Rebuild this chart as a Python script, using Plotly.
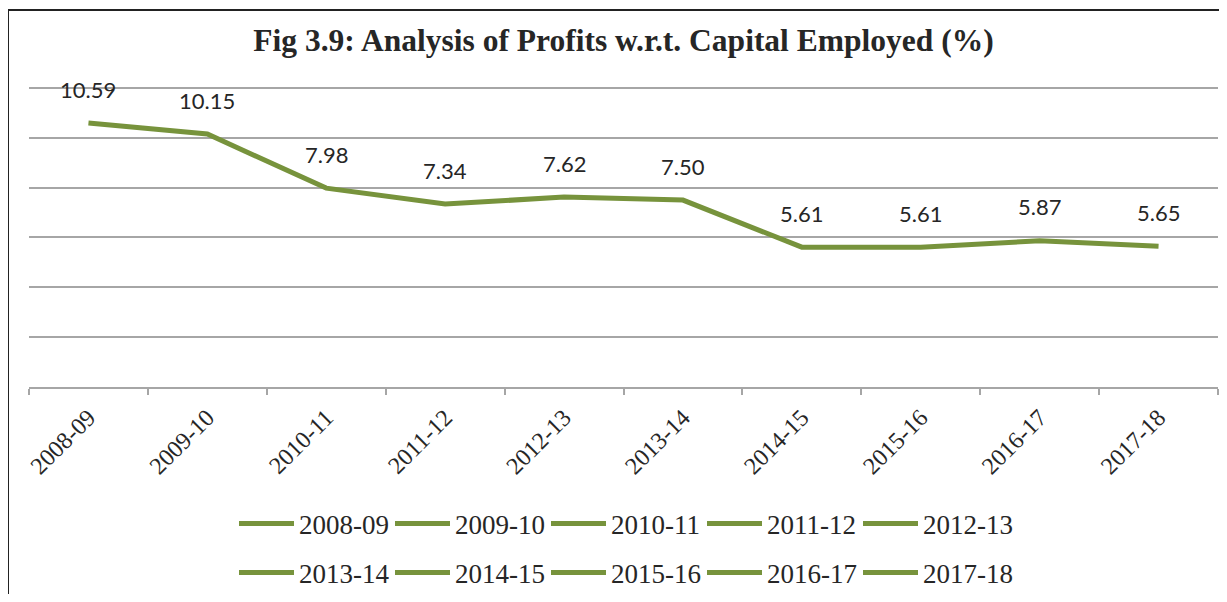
import plotly.graph_objects as go

# ---- data ----
categories = ["2008-09", "2009-10", "2010-11", "2011-12", "2012-13",
              "2013-14", "2014-15", "2015-16", "2016-17", "2017-18"]
values = [10.59, 10.15, 7.98, 7.34, 7.62, 7.50, 5.61, 5.61, 5.87, 5.65]
y_gridlines = [0, 2, 4, 6, 8, 10, 12]
title_text = "Fig 3.9: Analysis of Profits w.r.t. Capital Employed (%)"

GREEN = "#77933C"
GRID = "#A6A6A6"
TEXT = "#262626"
SERIF = "Liberation Serif"

# page body has an 8px margin, so the figure is drawn from (8, 8)
W, H = 1211, 586
Y_MAX = 13.0
L, R, T, B = 21, 1, 55, 207
PW, PH = W - L - R, H - T - B

fig = go.Figure()

fig.add_trace(go.Scatter(
    x=categories, y=values, mode="lines",
    line=dict(color=GREEN, width=5),
    showlegend=False, hoverinfo="skip",
))

for i, c in enumerate(categories):
    fig.add_trace(go.Scatter(
        x=[None], y=[None], mode="lines", name=c,
        line=dict(color=GREEN, width=5),
        legend="legend" if i < 5 else "legend2",
    ))

for c, v in zip(categories, values):
    fig.add_annotation(
        x=c, y=v, text=f"{v:.2f}", showarrow=False,
        yshift=34, font=dict(family="Lato", size=22, color=TEXT),
    )

legend_common = dict(
    orientation="h", xanchor="left", yanchor="middle",
    xref="container", yref="container",
    font=dict(family=SERIF, size=27, color=TEXT),
    entrywidth=86, entrywidthmode="pixels",
    bgcolor="rgba(0,0,0,0)", itemwidth=55,
)

fig.update_layout(
    width=W, height=H,
    margin=dict(l=L, r=R, t=T, b=B, autoexpand=False),
    paper_bgcolor="white", plot_bgcolor="rgba(0,0,0,0)",
    title=dict(
        text=f"<b>{title_text}</b>",
        x=0.5, xref="paper", xanchor="center",
        y=1 - 32 / H, yref="container", yanchor="middle",
        font=dict(family=SERIF, size=31.5, color=TEXT),
    ),
    xaxis=dict(
        type="category", range=[-0.5, 9.5],
        showline=True, linecolor=GRID, linewidth=2,
        ticks="outside", tickson="boundaries", ticklen=6,
        tickcolor=GRID, tickwidth=2,
        tickangle=-45, tickfont=dict(family=SERIF, size=24, color=TEXT),
        ticklabelstandoff=5,
        showgrid=False, zeroline=False,
    ),
    yaxis=dict(
        range=[0, Y_MAX], tickmode="array", tickvals=y_gridlines,
        showgrid=True, gridcolor=GRID, gridwidth=2,
        showticklabels=False, zeroline=False, ticks="",
    ),
    legend=dict(x=(234 - 8) / W, y=1 - (524 - 8) / H, **legend_common),
    legend2=dict(x=(234 - 8) / W, y=1 - (573 - 8) / H, **legend_common),
)

# chart frame (top and left edges)
fig.add_shape(type="line", xref="paper", yref="paper",
              x0=-L / PW, x1=1 + 20 / PW, y0=1 + (T - 2) / PH, y1=1 + (T - 2) / PH,
              line=dict(color="#222222", width=2))
fig.add_shape(type="line", xref="paper", yref="paper",
              x0=-L / PW, x1=-L / PW, y0=1 + (T - 2) / PH, y1=-(B + 10) / PH,
              line=dict(color="#222222", width=2))

fig.write_html("out.html")
